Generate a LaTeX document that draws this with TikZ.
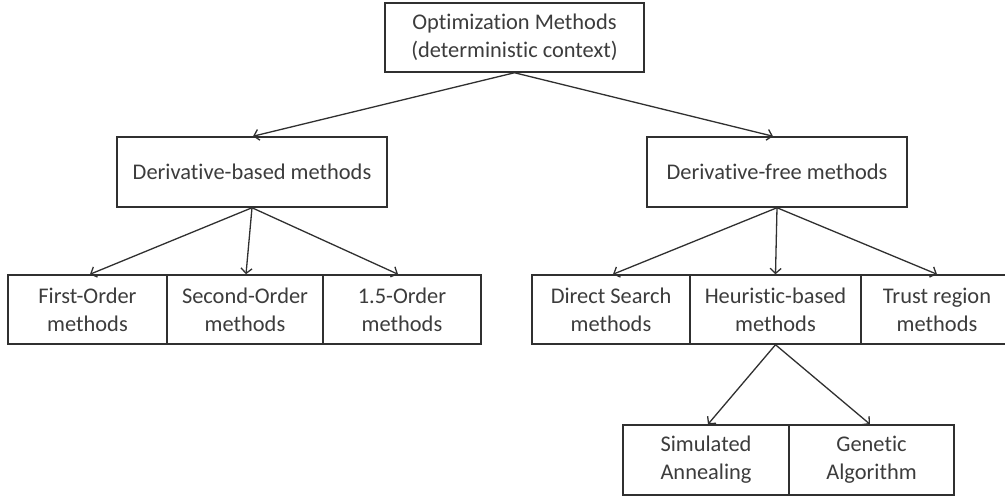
\documentclass[tikz,border=0pt]{standalone}
\usepackage{fontspec}
\setmainfont{Carlito}[Ligatures={NoCommon}]
\usetikzlibrary{arrows.meta}
\definecolor{edge}{HTML}{303030}
\definecolor{txt}{HTML}{3C3C3C}
\begin{document}
\begin{tikzpicture}[x=1pt,y=-1pt,
  box/.style={draw=edge,line width=1.5pt,fill=white,inner sep=0pt,align=center,
    text=txt,font=\fontsize{22.4}{28}\selectfont},
  arr/.style={draw=edge,line width=1.3pt,-{Straight Barb[length=5pt,width=11pt,line width=1.3pt]}}]
\useasboundingbox (0,0) rectangle (1005,497);
\clip (0,0) rectangle (1005,497);
\fill[white] (0,0) rectangle (1005,497);
% top
\node[box,minimum width=259pt,minimum height=69pt] (top) at (514.5,37.5) {Optimization Methods\\(deterministic context)};
% level 2
\node[box,minimum width=270pt,minimum height=70pt] (dbm) at (252,172) {Derivative-based methods};
\node[box,minimum width=260pt,minimum height=70pt] (dfm) at (777,172) {Derivative-free methods};
% level 3 left
\node[box,minimum width=159pt,minimum height=69pt] (fo) at (87.5,309.5) {First-Order\\methods};
\node[box,minimum width=156pt,minimum height=69pt] (so) at (245,309.5) {Second-Order\\methods};
\node[box,minimum width=158pt,minimum height=69pt] (oo) at (402,309.5) {1.5-Order\\methods};
% level 3 right
\node[box,minimum width=158pt,minimum height=69pt] (ds) at (611,309.5) {Direct Search\\methods};
\node[box,minimum width=171pt,minimum height=69pt] (hb) at (775.5,309.5) {Heuristic-based\\methods};
\node[box,minimum width=152pt,minimum height=69pt] (tr) at (937,309.5) {Trust region\\methods};
% level 4
\node[box,minimum width=166pt,minimum height=70pt] (sa) at (706,460) {Simulated\\Annealing};
\node[box,minimum width=165pt,minimum height=70pt] (ga) at (871.5,460) {Genetic\\Algorithm};
% arrows
\draw[arr] (top.south) -- ([xshift=1pt]dbm.north);
\draw[arr] (top.south) -- ([xshift=-4pt]dfm.north);
\draw[arr] (dbm.south) -- ([xshift=2.5pt]fo.north);
\draw[arr] (dbm.south) -- ([xshift=1pt]so.north);
\draw[arr] (dbm.south) -- ([xshift=-4pt]oo.north);
\draw[arr] (dfm.south) -- ([xshift=2pt]ds.north);
\draw[arr] (dfm.south) -- (hb.north);
\draw[arr] (dfm.south) -- (tr.north);
\draw[arr] (hb.south) -- ([xshift=2pt]sa.north);
\draw[arr] (hb.south) -- ([xshift=-1.5pt]ga.north);
\end{tikzpicture}
\end{document}
